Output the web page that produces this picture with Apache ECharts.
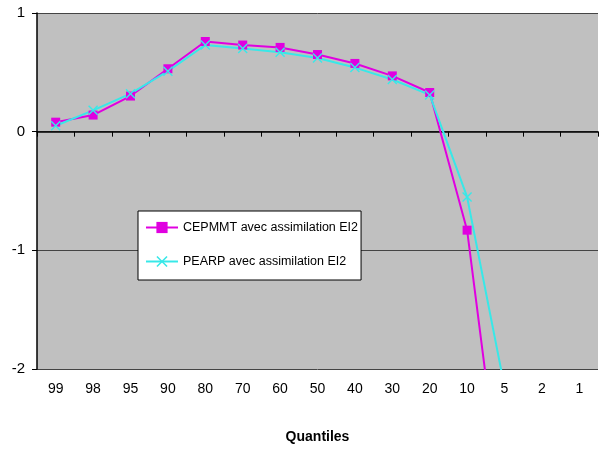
<!DOCTYPE html>
<html><head><meta charset="utf-8">
<script src="https://cdn.jsdelivr.net/npm/echarts@6/dist/echarts.min.js"></script>
<style>html,body{margin:0;padding:0;background:#fff}#c{width:599px;height:451px}</style>
</head><body><div id="c"></div>
<script>
const categories = ['99','98','95','90','80','70','60','50','40','30','20','10','5','2','1'];
const cepmmt = [0.08,0.14,0.30,0.53,0.76,0.73,0.71,0.65,0.575,0.47,0.33,-0.83,-3.3,null,null];
const pearp = [0.05,0.18,0.32,0.51,0.73,0.70,0.67,0.62,0.54,0.44,0.31,-0.55,-2.15,null,null];
const seriesNames = ['CEPMMT avec assimilation EI2','PEARP avec assimilation EI2'];
const yTicks = { min: -2, max: 1, interval: 1 };
const xName = 'Quantiles';

const xMark = 'path://M0,1L1,0L5,4L9,0L10,1L6,5L10,9L9,10L5,6L1,10L0,9L4,5Z';
const font = 'Liberation Sans, Arial, sans-serif';
const chart = echarts.init(document.getElementById('c'));
chart.setOption({
  animation: false,
  grid: { left: 37, top: 13, right: 1, bottom: 82, show: true, backgroundColor: '#c0c0c0', borderWidth: 0 },
  legend: {
    orient: 'vertical', left: 138, top: 211,
    padding: [10, 3, 12, 7], itemGap: 21, itemWidth: 32, itemHeight: 14,
    backgroundColor: '#fff', borderColor: '#000', borderWidth: 1,
    textStyle: { fontFamily: font, fontSize: 12.5, color: '#000' },
    data: seriesNames
  },
  xAxis: [{
    type: 'category', data: categories, boundaryGap: true,
    axisLine: { onZero: true, lineStyle: { color: '#000', width: 1.5 } },
    axisTick: { show: true, length: 5, lineStyle: { color: '#000' } },
    axisLabel: { show: false }, splitLine: { show: false }
  }, {
    type: 'category', data: categories, boundaryGap: true, position: 'bottom',
    axisLine: { show: false, onZero: false }, axisTick: { show: false },
    axisLabel: { show: true, margin: 13, fontFamily: font, fontSize: 14, color: '#000' },
    name: xName, nameLocation: 'middle', nameGap: 61,
    nameTextStyle: { fontFamily: font, fontSize: 14, fontWeight: 'bold', color: '#000' }
  }],
  yAxis: {
    type: 'value', min: yTicks.min, max: yTicks.max, interval: yTicks.interval,
    axisLine: { show: true, lineStyle: { color: '#000', width: 1.5 } },
    axisTick: { show: true, length: 5, lineStyle: { color: '#000' } },
    axisLabel: { fontFamily: font, fontSize: 15, color: '#000', margin: 12 },
    splitLine: { show: true, lineStyle: { color: '#444', width: 1 } }
  },
  series: [{
    name: seriesNames[0], type: 'line', data: cepmmt, xAxisIndex: 0, clip: true,
    symbol: 'rect', symbolSize: 9, showSymbol: true,
    lineStyle: { color: '#e000e0', width: 2 }, itemStyle: { color: '#e000e0' }
  }, {
    name: seriesNames[1], type: 'line', data: pearp, xAxisIndex: 0, clip: true,
    symbol: xMark, symbolSize: 10, showSymbol: true,
    lineStyle: { color: '#38e8e8', width: 2 }, itemStyle: { color: '#38e8e8' }
  }]
});
</script></body></html>
